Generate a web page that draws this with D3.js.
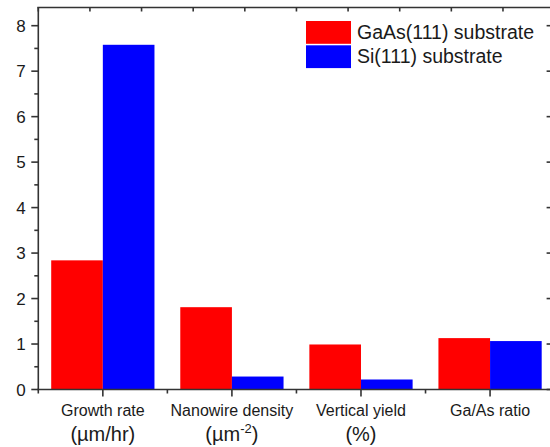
<!DOCTYPE html>
<html>
<head>
<meta charset="utf-8">
<script src="https://cdn.jsdelivr.net/npm/d3@7"></script>
<style>
  body { margin: 0; background: #fff; }
  text { font-family: Arial, "Liberation Sans", sans-serif; fill: #1a1a1a; }
</style>
</head>
<body>
<script>
const categories = ['Growth rate', 'Nanowire density', 'Vertical yield', 'Ga/As ratio'];
const units = ['(\u00b5m/hr)', '(\u00b5m', '(%)', ''];
const gaasValues = [2.84, 1.81, 0.99, 1.13];
const siValues = [7.58, 0.285, 0.22, 1.065];
const seriesNames = ['GaAs(111) substrate', 'Si(111) substrate'];
const seriesColors = ['#ff0000', '#0000ff'];
const yTicks = [0, 1, 2, 3, 4, 5, 6, 7, 8];

const width = 550, height = 447;
const margin = {top: 7.5, right: -4.6, bottom: 57.5, left: 38.3};
const axisColor = '#333';

const svg = d3.select('body').append('svg')
  .attr('width', width)
  .attr('height', height);

// x in category units: 0.5 .. 4.5
const x = d3.scaleLinear().domain([0.5, 4.5]).range([margin.left, width - margin.right]);
const y = d3.scaleLinear().domain([0, 8.4]).range([height - margin.bottom, margin.top]);

const barW = 0.4;

// bars
const series = [gaasValues, siValues];
series.forEach((vals, s) => {
  svg.append('g').selectAll('rect')
    .data(vals)
    .enter().append('rect')
    .attr('x', (d, i) => x(i + 1 - barW + s * barW))
    .attr('width', x(1 + barW) - x(1))
    .attr('y', d => y(d))
    .attr('height', d => y(0) - y(d))
    .attr('fill', seriesColors[s]);
});

// frame
const frame = svg.append('g').attr('stroke', axisColor).attr('stroke-width', 1.6).attr('fill', 'none');
frame.append('line').attr('x1', x(0.5)).attr('x2', x(0.5)).attr('y1', y(0)).attr('y2', y(8.4));
frame.append('line').attr('x1', x(0.5) - 1).attr('x2', x(4.5)).attr('y1', y(0)).attr('y2', y(0));
frame.append('line').attr('x1', x(0.5) - 1).attr('x2', x(4.5)).attr('y1', y(8.4)).attr('y2', y(8.4));
frame.append('line').attr('x1', x(4.5)).attr('x2', x(4.5)).attr('y1', y(0)).attr('y2', y(8.4));

// left axis major + minor ticks
const minorY = d3.range(0.5, 8.4, 1);
frame.selectAll('.ymaj').data(yTicks).enter().append('line')
  .attr('x1', x(0.5) - 7).attr('x2', x(0.5)).attr('y1', d => y(d)).attr('y2', d => y(d));
frame.selectAll('.ymin').data(minorY).enter().append('line')
  .attr('x1', x(0.5) - 4).attr('x2', x(0.5)).attr('y1', d => y(d)).attr('y2', d => y(d));
// right axis ticks (inward)
frame.selectAll('.yr').data(yTicks).enter().append('line')
  .attr('x1', x(4.5) - 8).attr('x2', x(4.5)).attr('y1', d => y(d)).attr('y2', d => y(d));

svg.append('g').selectAll('text').data(yTicks).enter().append('text')
  .attr('x', x(0.5) - 12.5)
  .attr('y', d => y(d) + 6)
  .attr('text-anchor', 'end')
  .style('font-size', '17px')
  .text(d => d);

// bottom axis ticks
const catPos = d3.range(1, 5);
const minorX = d3.range(0.5, 4.6, 1);
frame.selectAll('.xmaj').data(catPos).enter().append('line')
  .attr('x1', d => x(d)).attr('x2', d => x(d)).attr('y1', y(0)).attr('y2', y(0) + 7);
frame.selectAll('.xmin').data(minorX).enter().append('line')
  .attr('x1', d => x(d)).attr('x2', d => x(d)).attr('y1', y(0)).attr('y2', y(0) + 4);
// top axis ticks (inward)
const topTicks = d3.range(0.5, 4.5, 0.4);
frame.selectAll('.xt').data(topTicks).enter().append('line')
  .attr('x1', d => x(d)).attr('x2', d => x(d)).attr('y1', y(8.4)).attr('y2', y(8.4) + 4);

// category labels
const xl = svg.append('g');
xl.selectAll('.cat').data(categories).enter().append('text')
  .attr('x', (d, i) => x(i + 1))
  .attr('y', y(0) + 26)
  .attr('text-anchor', 'middle')
  .style('font-size', '16px')
  .text(d => d);
units.forEach((u, i) => {
  if (!u) return;
  const t = xl.append('text')
    .attr('x', x(i + 1))
    .attr('y', y(0) + 51)
    .attr('text-anchor', 'middle')
    .style('font-size', '20px')
    .text(u);
  if (i === 1) {
    t.append('tspan').attr('dy', -8).style('font-size', '13px').text('-2');
    t.append('tspan').attr('dy', 8).text(')');
  }
});

// legend
const legend = svg.append('g').attr('transform', 'translate(306,21)');
seriesNames.forEach((name, s) => {
  legend.append('rect')
    .attr('x', 0).attr('y', s * 24.3)
    .attr('width', 45).attr('height', 22.8)
    .attr('fill', seriesColors[s]);
  legend.append('text')
    .attr('x', 51).attr('y', s * 24.3 + 17.5)
    .style('font-size', '19.5px')
    .text(name);
});
</script>
</body>
</html>
